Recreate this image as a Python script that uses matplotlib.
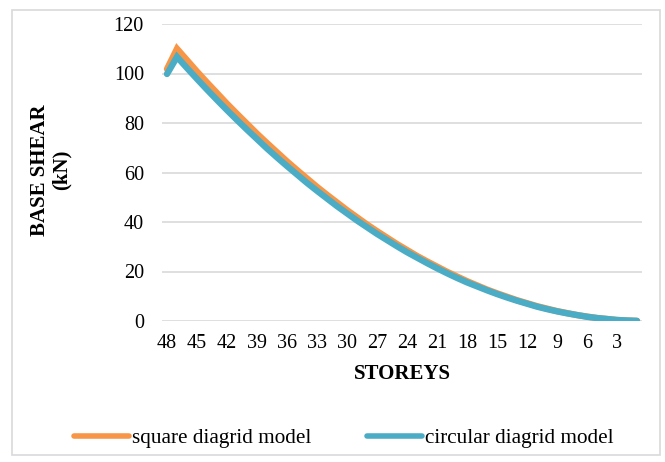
import matplotlib
matplotlib.use("Agg")
import matplotlib.pyplot as plt
from matplotlib.patches import Rectangle

plt.rcParams.update({
    "font.family": "serif",
    "font.serif": ["Liberation Serif", "DejaVu Serif"],
})

# storeys from top (48) down to 1
storeys = list(range(48, 0, -1))
square = [101.8, 110.0, 105.4, 100.8, 96.4, 92.1, 87.8, 83.7, 79.7, 75.7, 71.9, 68.2,
          64.5, 61.0, 57.6, 54.2, 51.0, 47.9, 44.8, 41.9, 39.0, 36.3, 33.7, 31.1,
          28.7, 26.3, 24.1, 22.0, 19.9, 18.0, 16.1, 14.4, 12.7, 11.2, 9.8, 8.4,
          7.2, 6.0, 5.0, 4.0, 3.2, 2.4, 1.8, 1.2, 0.8, 0.4, 0.2, 0.05]
circular = [99.8, 106.7, 102.2, 97.8, 93.5, 89.3, 85.2, 81.2, 77.3, 73.5, 69.7, 66.1,
            62.6, 59.2, 55.8, 52.6, 49.5, 46.4, 43.5, 40.6, 37.9, 35.2, 32.7, 30.2,
            27.8, 25.6, 23.4, 21.3, 19.3, 17.4, 15.6, 14.0, 12.4, 10.9, 9.5, 8.2,
            7.0, 5.8, 4.8, 3.9, 3.1, 2.4, 1.7, 1.2, 0.8, 0.4, 0.2, 0.05]
yticks = [0, 20, 40, 60, 80, 100, 120]

ORANGE, BLUE, GRID = "#F79646", "#4BACC6", "#D9D9D9"

fig = plt.figure(figsize=(6.65, 4.62), dpi=100)
ax = fig.add_axes([162 / 665, 1 - 321 / 462, 480 / 665, 297 / 462])

# outer chart frame
fig.patches.append(Rectangle((12 / 665, 1 - 455 / 462), 648 / 665, 445 / 462,
                             transform=fig.transFigure, fill=False,
                             edgecolor=GRID, linewidth=1.2))

idx = list(range(len(storeys)))
ax.plot(idx, square, color=ORANGE, lw=4.6, solid_capstyle="round",
        solid_joinstyle="miter", label="square diagrid model")
ax.plot(idx, circular, color=BLUE, lw=4.6, solid_capstyle="round",
        solid_joinstyle="miter", label="circular diagrid model")

ax.set_xlim(-0.5, len(storeys) - 0.5)
ax.set_ylim(0, 120)
ax.set_yticks(yticks)
ax.set_xticks(idx[::3])
ax.set_xticklabels([str(s) for s in storeys[::3]])
ax.tick_params(length=0, labelsize=14.5)
ax.tick_params(axis="y", pad=13)
ax.tick_params(axis="x", pad=9)
ax.grid(axis="y", color=GRID, lw=1.2)
ax.set_axisbelow(True)
for s in ax.spines.values():
    s.set_visible(False)

ax.set_xlabel("STOREYS", fontsize=15, fontweight="bold", labelpad=8)
fig.text(51 / 665, 1 - 170 / 462, "BASE SHEAR\n(kN)", rotation=90, ha="center",
         va="center", fontsize=15, fontweight="bold", linespacing=1.1)

leg = fig.legend(loc="center", bbox_to_anchor=(344 / 665, 1 - 438 / 462), ncol=2,
                 frameon=False, fontsize=15.3, handlelength=2.6, handletextpad=0.15,
                 columnspacing=2.6)
for h in leg.get_lines():
    h.set_linewidth(4.0)

fig.savefig("out.png", dpi=100)
